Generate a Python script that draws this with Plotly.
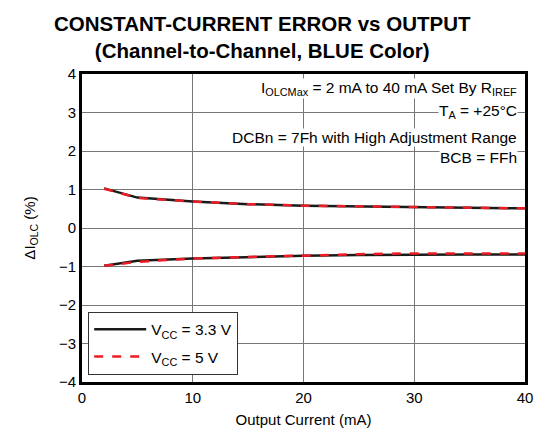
import plotly.graph_objects as go

current_ma = [2, 5, 10, 15, 20, 25, 30, 35, 40]
upper_3v3 = [1.03, 0.79, 0.69, 0.62, 0.58, 0.56, 0.55, 0.53, 0.51]
upper_5v = [1.02, 0.78, 0.69, 0.62, 0.58, 0.56, 0.55, 0.53, 0.51]
lower_3v3 = [-0.98, -0.85, -0.79, -0.75, -0.72, -0.70, -0.69, -0.69, -0.69]
lower_5v = [-0.98, -0.88, -0.79, -0.75, -0.71, -0.68, -0.66, -0.66, -0.66]

x_ticks = [0, 10, 20, 30, 40]
y_ticks = [-4, -3, -2, -1, 0, 1, 2, 3, 4]
y_tick_text = ["\u22124", "\u22123", "\u22122", "\u22121", "0", "1", "2", "3", "4"]

FONT = "Liberation Sans, Arial, sans-serif"

fig = go.Figure()
fig.add_trace(go.Scatter(x=current_ma, y=upper_3v3, mode="lines",
                         line=dict(color="#1a1a1a", width=2.5),
                         name="V<sub>CC</sub> = 3.3 V", legendgroup="a"))
fig.add_trace(go.Scatter(x=current_ma, y=lower_3v3, mode="lines",
                         line=dict(color="#1a1a1a", width=2.5),
                         name="V<sub>CC</sub> = 3.3 V", legendgroup="a", showlegend=False))
fig.add_trace(go.Scatter(x=current_ma, y=upper_5v, mode="lines",
                         line=dict(color="#ee1c25", width=2.5, dash="dash"),
                         name="V<sub>CC</sub> = 5 V", legendgroup="b"))
fig.add_trace(go.Scatter(x=current_ma, y=lower_5v, mode="lines",
                         line=dict(color="#ee1c25", width=2.5, dash="dash"),
                         name="V<sub>CC</sub> = 5 V", legendgroup="b", showlegend=False))

notes = [
    ("I<sub>OLCMax</sub> = 2 mA to 40 mA Set By R<sub>IREF</sub>", 3.63),
    ("T<sub>A</sub> = +25°C", 3.03),
    ("DCBn = 7Fh with High Adjustment Range", 2.34),
    ("BCB = FFh", 1.84),
]
for txt, yv in notes:
    fig.add_annotation(x=39.4, y=yv, xref="x", yref="y", text=txt, showarrow=False,
                       xanchor="right", yanchor="middle", borderpad=0,
                       font=dict(family=FONT, size=15.5, color="black"),
                       bgcolor="white")

fig.add_annotation(x=0.408, y=1.205, xref="paper", yref="paper",
                   text="<b>CONSTANT-CURRENT ERROR vs OUTPUT<br>(Channel-to-Channel, BLUE Color)</b>",
                   showarrow=False, xanchor="center", yanchor="top", borderpad=0,
                   font=dict(family=FONT, size=20.5, color="black"))

fig.update_layout(
    width=537, height=431,
    margin=dict(l=74, r=17, t=66, b=51),
    paper_bgcolor="white", plot_bgcolor="white",
    font=dict(family=FONT, size=15, color="black"),
    legend=dict(x=0.014, y=0.228, xanchor="left", yanchor="top",
                bgcolor="white", bordercolor="#333333", borderwidth=1,
                font=dict(family=FONT, size=15.5, color="black"),
                tracegroupgap=4, itemwidth=52),
    showlegend=True,
)
fig.update_xaxes(range=[0, 40], tickvals=x_ticks, ticks="", showgrid=True,
                 gridcolor="#777777", gridwidth=1, showline=True, linecolor="black",
                 linewidth=3, mirror=True, zeroline=False,
                 title=dict(text="Output Current (mA)", font=dict(family=FONT, size=15), standoff=10),
                 tickfont=dict(family=FONT, size=15))
fig.update_yaxes(range=[-4, 4], tickvals=y_ticks, ticktext=y_tick_text, ticks="", showgrid=True,
                 gridcolor="#777777", gridwidth=1, showline=True, linecolor="black",
                 linewidth=3, mirror=True, zeroline=False,
                 title=dict(text="\u0394I<sub>OLC</sub> (%)", font=dict(family=FONT, size=15), standoff=20),
                 tickfont=dict(family=FONT, size=15))

fig.write_html("out.html")
